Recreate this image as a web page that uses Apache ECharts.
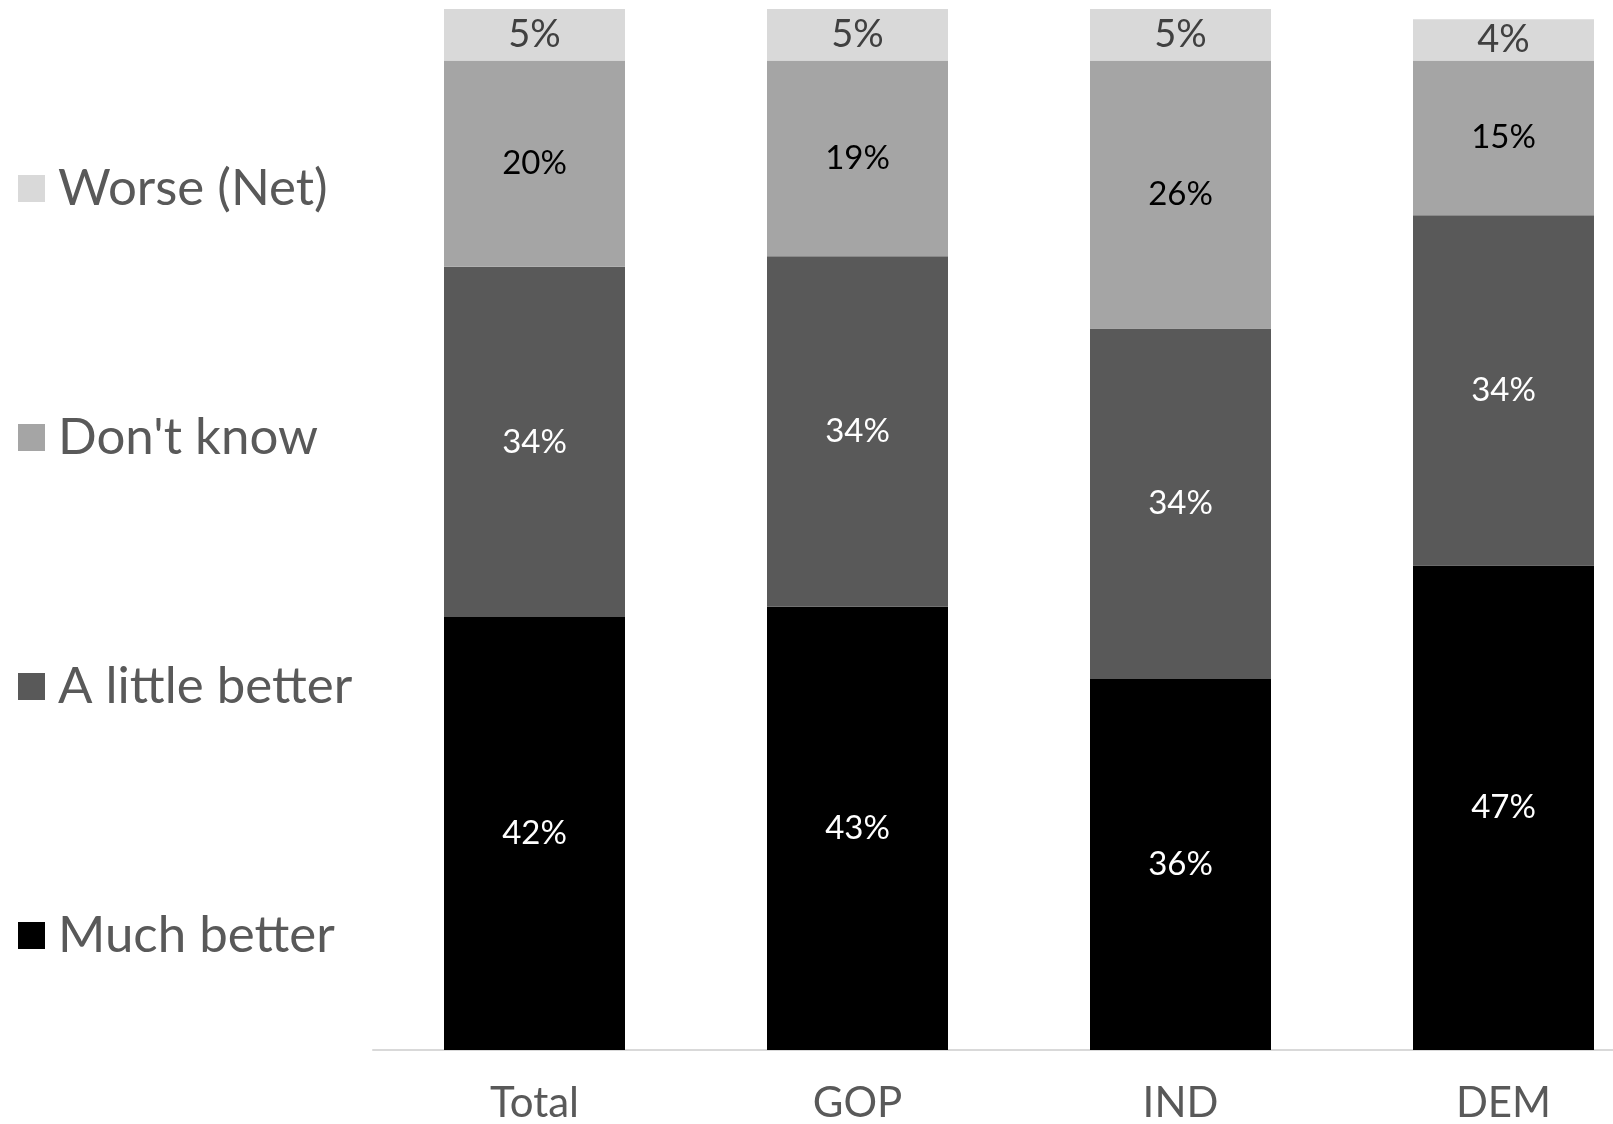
<!DOCTYPE html>
<html>
<head>
<meta charset="utf-8">
<style>
  html, body { margin: 0; padding: 0; background: #ffffff; }
  #chart { width: 1613px; height: 1124px; }
</style>
<script src="https://cdn.jsdelivr.net/npm/echarts@6/dist/echarts.min.js"></script>
</head>
<body>
<div id="chart"></div>
<script>
// Survey groups along the x axis
const categories = ['Total', 'GOP', 'IND', 'DEM'];

// Share of responses (%) for each answer, per group
const muchBetter   = [42, 43, 36, 47];
const littleBetter = [34, 34, 34, 34];
const dontKnow     = [20, 19, 26, 15];
const worseNet     = [5, 5, 5, 4];

// Legend order, top to bottom
const legendOrder = ['Worse (Net)', "Don't know", 'A little better', 'Much better'];

const FONT = 'Lato, "Open Sans", sans-serif';

function stackSeries(name, data, color, labelColor, labelSize) {
  return {
    name: name,
    type: 'bar',
    stack: 'share',
    data: data,
    barWidth: 181,
    itemStyle: { color: color },
    label: {
      show: true,
      position: 'inside',
      formatter: '{c}%',
      color: labelColor,
      fontFamily: FONT,
      fontSize: labelSize
    },
    emphasis: { disabled: true }
  };
}

const chart = echarts.init(document.getElementById('chart'), null, { renderer: 'canvas' });

chart.setOption({
  animation: false,
  backgroundColor: '#ffffff',
  // The last band runs past the right edge of the canvas, so the grid is not clamped.
  grid: {
    left: 373, top: 9, width: 1292, height: 1041,
    containLabel: false,
    outerBoundsMode: 'none'
  },
  legend: {
    orient: 'vertical',
    left: 18,
    top: 163,
    padding: 0,
    itemWidth: 27,
    itemHeight: 27,
    itemGap: 198,
    icon: 'rect',
    data: legendOrder,
    selectedMode: false,
    textStyle: {
      fontFamily: FONT,
      fontSize: 51,
      lineHeight: 50,
      color: '#595959',
      padding: [0, 0, 0, 8]
    }
  },
  xAxis: {
    type: 'category',
    data: categories,
    axisTick: { show: false },
    axisLine: { show: true, lineStyle: { color: '#d9d9d9', width: 2 } },
    axisLabel: {
      fontFamily: FONT,
      fontSize: 42,
      lineHeight: 42,
      color: '#595959',
      margin: 32
    }
  },
  yAxis: {
    type: 'value',
    min: 0,
    max: 101,
    show: false,
    splitLine: { show: false }
  },
  series: [
    stackSeries('Much better', muchBetter, '#000000', '#ffffff', 33),
    stackSeries('A little better', littleBetter, '#595959', '#ffffff', 33),
    stackSeries("Don't know", dontKnow, '#a5a5a5', '#000000', 33),
    stackSeries('Worse (Net)', worseNet, '#d9d9d9', '#404040', 38)
  ]
});
</script>
</body>
</html>
